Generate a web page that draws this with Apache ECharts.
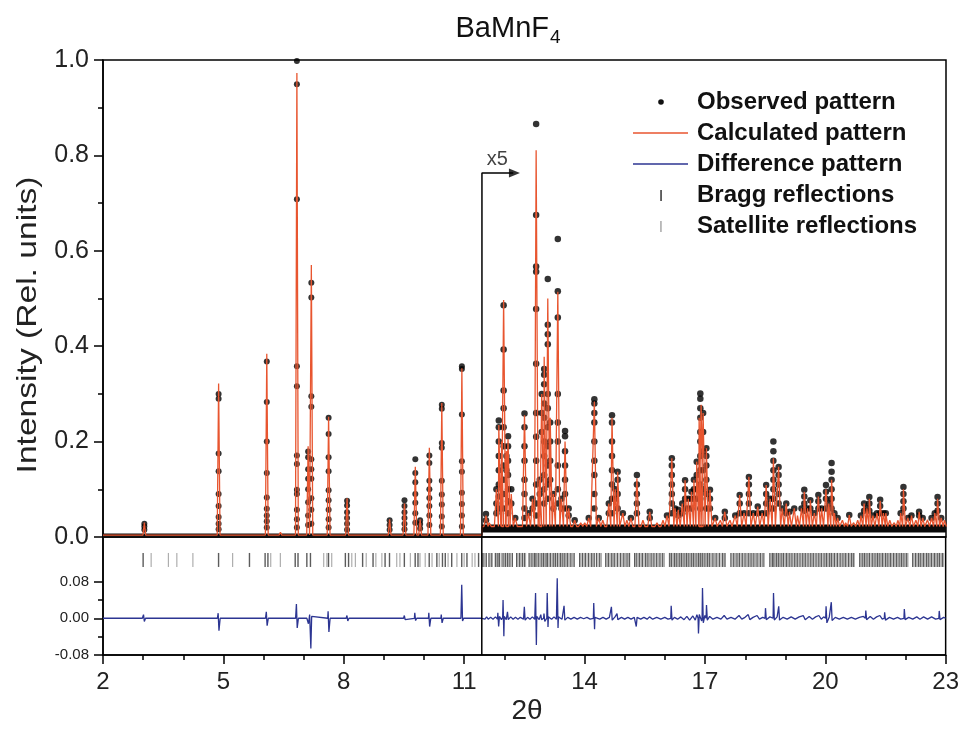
<!DOCTYPE html>
<html><head><meta charset="utf-8">
<script src="https://cdn.jsdelivr.net/npm/echarts@6/dist/echarts.min.js"></script>
<style>html,body{margin:0;padding:0;background:#fff}#c{width:962px;height:729px}</style>
</head><body><div id="c"></div>
<script>
// ---------- axis ticks ----------
const xMajorTicks = [2, 5, 8, 11, 14, 17, 20, 23];
const xMinorTicks = [3, 4, 6, 7, 9, 10, 12, 13, 15, 16, 18, 19, 21, 22];
const diffTicks = [-0.08, 0, 0.08];
const diffMinorTicks = [-0.04, 0.04];

// ---------- x5 break ----------
const x5Break = 11.44;
const x5Arrow = [[11.44, 0], [11.44, 0.763], [12.22, 0.763]];
const x5ArrowHead = [[12.25, 0.763]];
const x5LabelPos = [[11.82, 0.763]];

// ---------- baselines (display units) ----------
const calcBaseLeft = 0.004, calcBaseRight = 0.022;
const obsBandLeft = [[2, 0.003], [11.44, 0.003]];
const obsBandRight = [[11.44, 0.018], [23, 0.018]];

// ---------- calculated peaks [2θ, height] ----------
const calcPeaksLeft = [
  [3.03, 0.030], [3.86, 0.008], [4.24, 0.005], [4.88, 0.322], [5.23, 0.008],
  [6.08, 0.384], [6.42, 0.010], [6.83, 0.973], [7.11, 0.190], [7.19, 0.570],
  [7.62, 0.252], [8.08, 0.081], [8.62, 0.006], [8.74, 0.005], [8.87, 0.006],
  [8.99, 0.005], [9.14, 0.037], [9.51, 0.070], [9.78, 0.147], [9.90, 0.037],
  [10.13, 0.187], [10.44, 0.281], [10.94, 0.354], [11.27, 0.006]
];
const calcPeaksRight = [
  [11.54, 0.045], [11.62, 0.030], [11.80, 0.100], [11.86, 0.235], [11.93, 0.200],
  [11.98, 0.497], [12.05, 0.180], [12.09, 0.205], [12.17, 0.090], [12.27, 0.040],
  [12.50, 0.255], [12.60, 0.050], [12.70, 0.080], [12.79, 0.811], [12.88, 0.120],
  [12.93, 0.300], [12.99, 0.378], [13.08, 0.500], [13.14, 0.250], [13.22, 0.090],
  [13.33, 0.514], [13.42, 0.080], [13.51, 0.200], [13.60, 0.060], [13.75, 0.035],
  [13.90, 0.030], [14.00, 0.030], [14.10, 0.040], [14.24, 0.284], [14.35, 0.040],
  [14.45, 0.035], [14.60, 0.070], [14.68, 0.250], [14.76, 0.100], [14.82, 0.137],
  [14.95, 0.050], [15.05, 0.035], [15.15, 0.040], [15.30, 0.123], [15.45, 0.035],
  [15.62, 0.053], [15.80, 0.030], [15.95, 0.035], [16.05, 0.045], [16.17, 0.165],
  [16.25, 0.060], [16.33, 0.057], [16.43, 0.070], [16.50, 0.119], [16.58, 0.080],
  [16.66, 0.095], [16.72, 0.120], [16.79, 0.158], [16.85, 0.250], [16.90, 0.277],
  [16.95, 0.260], [17.03, 0.186], [17.12, 0.099], [17.25, 0.040], [17.38, 0.035],
  [17.49, 0.053], [17.62, 0.035], [17.75, 0.045], [17.86, 0.088], [17.97, 0.050],
  [18.09, 0.126], [18.20, 0.050], [18.31, 0.064], [18.42, 0.050], [18.52, 0.109],
  [18.62, 0.080], [18.70, 0.165], [18.83, 0.147], [18.92, 0.060], [19.02, 0.070],
  [19.10, 0.053], [19.22, 0.060], [19.30, 0.045], [19.40, 0.060], [19.47, 0.095],
  [19.55, 0.060], [19.62, 0.077], [19.72, 0.050], [19.82, 0.085], [19.90, 0.060],
  [20.01, 0.100], [20.08, 0.070], [20.15, 0.120], [20.22, 0.050], [20.30, 0.040],
  [20.42, 0.035], [20.50, 0.030], [20.59, 0.046], [20.70, 0.030], [20.80, 0.035],
  [20.88, 0.045], [20.96, 0.070], [21.03, 0.060], [21.09, 0.080], [21.18, 0.045],
  [21.28, 0.050], [21.36, 0.076], [21.44, 0.050], [21.50, 0.050], [21.60, 0.035],
  [21.71, 0.030], [21.80, 0.035], [21.87, 0.050], [21.94, 0.100], [22.05, 0.040],
  [22.14, 0.045], [22.25, 0.035], [22.33, 0.053], [22.42, 0.040], [22.54, 0.036],
  [22.64, 0.040], [22.72, 0.050], [22.79, 0.080], [22.88, 0.040], [22.96, 0.035]
];

// ---------- observed points [2θ, [intensities]] ----------
const obsDotsLeft = [
  [3.03, [0.028, 0.022, 0.015]],
  [4.88, [0.300, 0.290, 0.175, 0.138, 0.090, 0.065, 0.042, 0.028, 0.016]],
  [6.08, [0.368, 0.283, 0.200, 0.134, 0.083, 0.059, 0.045, 0.033, 0.020]],
  [6.83, [0.998, 0.949, 0.708, 0.358, 0.316, 0.171, 0.153, 0.099, 0.090, 0.057, 0.037, 0.020]],
  [7.11, [0.179, 0.167, 0.142, 0.122, 0.100, 0.073, 0.045, 0.025]],
  [7.19, [0.533, 0.502, 0.295, 0.273, 0.163, 0.142, 0.122, 0.081, 0.057, 0.028]],
  [7.62, [0.250, 0.216, 0.167, 0.138, 0.098, 0.077, 0.057, 0.037, 0.020]],
  [8.08, [0.076, 0.066, 0.052, 0.040, 0.028, 0.015]],
  [9.14, [0.035, 0.025, 0.015]],
  [9.51, [0.077, 0.065, 0.052, 0.040, 0.028, 0.016]],
  [9.78, [0.163, 0.134, 0.115, 0.090, 0.072, 0.050, 0.030]],
  [9.90, [0.035, 0.027, 0.018]],
  [10.13, [0.171, 0.155, 0.118, 0.100, 0.082, 0.065, 0.045, 0.025]],
  [10.44, [0.277, 0.269, 0.197, 0.187, 0.118, 0.089, 0.068, 0.043, 0.022]],
  [10.94, [0.358, 0.352, 0.257, 0.159, 0.137, 0.093, 0.069, 0.045, 0.022]]
];
const obsDotsRight = [
  [11.54, [0.048, 0.035]], [11.80, [0.100, 0.070, 0.050]],
  [11.86, [0.244, 0.230, 0.200, 0.170, 0.140, 0.110, 0.085, 0.060]],
  [11.98, [0.486, 0.393, 0.307, 0.270, 0.230, 0.190, 0.150, 0.120, 0.090, 0.060]],
  [12.05, [0.170, 0.140]], [12.09, [0.211, 0.190, 0.160, 0.130, 0.100, 0.075, 0.050]],
  [12.17, [0.100, 0.070]], [12.27, [0.040]],
  [12.50, [0.259, 0.230, 0.190, 0.160, 0.120, 0.090, 0.060, 0.040]],
  [12.60, [0.050]], [12.70, [0.080, 0.060]],
  [12.79, [0.866, 0.675, 0.567, 0.556, 0.478, 0.363, 0.260, 0.210, 0.160, 0.110, 0.070, 0.045]],
  [12.88, [0.120, 0.090]], [12.93, [0.300, 0.260, 0.220]],
  [12.99, [0.352, 0.340, 0.320, 0.280, 0.250, 0.200, 0.170, 0.130, 0.100, 0.070]],
  [13.08, [0.541, 0.445, 0.425, 0.404, 0.300, 0.270, 0.230, 0.190, 0.150, 0.110, 0.080]],
  [13.14, [0.240, 0.200, 0.160, 0.120]], [13.22, [0.090, 0.060]],
  [13.33, [0.625, 0.515, 0.460, 0.300, 0.240, 0.200, 0.150, 0.100, 0.070]],
  [13.42, [0.080, 0.060]], [13.51, [0.222, 0.211, 0.180, 0.150, 0.120, 0.090, 0.060]],
  [13.60, [0.060, 0.045]], [13.75, [0.035]], [14.10, [0.040]],
  [14.24, [0.289, 0.280, 0.260, 0.240, 0.200, 0.160, 0.130, 0.090, 0.060]],
  [14.35, [0.040]], [14.60, [0.070, 0.050]],
  [14.68, [0.255, 0.240, 0.200, 0.170, 0.140, 0.110, 0.080, 0.050]],
  [14.76, [0.100, 0.080]], [14.82, [0.137, 0.120, 0.090, 0.060]],
  [14.95, [0.050]], [15.15, [0.040]], [15.30, [0.130, 0.110, 0.090, 0.070, 0.050]],
  [15.62, [0.053, 0.040]], [16.05, [0.045]],
  [16.17, [0.165, 0.150, 0.130, 0.110, 0.090, 0.070, 0.050]],
  [16.25, [0.060]], [16.33, [0.057, 0.045]], [16.43, [0.070, 0.050]],
  [16.50, [0.119, 0.100, 0.080, 0.060]], [16.58, [0.080, 0.060]],
  [16.66, [0.095, 0.080, 0.060]], [16.72, [0.120, 0.100, 0.080]],
  [16.79, [0.158, 0.130, 0.100, 0.080]],
  [16.88, [0.301, 0.290, 0.270, 0.250, 0.220, 0.200, 0.170, 0.140, 0.110, 0.080, 0.060]],
  [16.95, [0.260, 0.220, 0.180, 0.140, 0.100]],
  [17.03, [0.186, 0.170, 0.150, 0.120, 0.090, 0.060]], [17.12, [0.099, 0.080, 0.060]],
  [17.25, [0.040]], [17.49, [0.053, 0.040]], [17.75, [0.045]],
  [17.86, [0.088, 0.070, 0.050]], [17.97, [0.050]],
  [18.09, [0.126, 0.110, 0.090, 0.070, 0.050]], [18.20, [0.050]],
  [18.31, [0.064, 0.050]], [18.42, [0.050]], [18.52, [0.109, 0.090, 0.070, 0.050]],
  [18.62, [0.080, 0.060]], [18.70, [0.200, 0.180, 0.160, 0.140, 0.120, 0.100, 0.080, 0.060]],
  [18.83, [0.147, 0.130, 0.110, 0.090, 0.070]], [18.92, [0.060]],
  [19.02, [0.070, 0.050]], [19.10, [0.053]], [19.22, [0.060]], [19.40, [0.060]],
  [19.47, [0.099, 0.085, 0.070, 0.055]], [19.55, [0.060]], [19.62, [0.077, 0.060]],
  [19.72, [0.050]], [19.82, [0.088, 0.075, 0.060]], [19.90, [0.060]],
  [20.01, [0.109, 0.095, 0.080, 0.060]], [20.08, [0.070]],
  [20.15, [0.155, 0.137, 0.120, 0.100, 0.080, 0.060]], [20.22, [0.050]],
  [20.30, [0.040]], [20.59, [0.046]], [20.88, [0.045]], [20.96, [0.070, 0.055]],
  [21.03, [0.060]], [21.09, [0.084, 0.070, 0.055]], [21.18, [0.045]], [21.28, [0.050]],
  [21.36, [0.078, 0.065, 0.050]], [21.44, [0.050]], [21.50, [0.050]], [21.87, [0.050]],
  [21.94, [0.105, 0.090, 0.075, 0.060]], [22.05, [0.040]], [22.14, [0.045]],
  [22.33, [0.053, 0.045]], [22.42, [0.040]], [22.64, [0.040]], [22.72, [0.050]],
  [22.79, [0.084, 0.070, 0.055]], [22.88, [0.040]]
];

// ---------- difference pattern [2θ, Δ] ----------
const diffPoints = [
  [2.00, 0], [2.98, 0], [3.01, 0.008], [3.03, -0.007], [3.06, 0],
  [3.85, 0], [3.86, 0.002], [3.88, 0],
  [4.85, 0], [4.87, 0.011], [4.89, -0.027], [4.92, 0],
  [6.05, 0], [6.07, 0.014], [6.09, -0.016], [6.12, 0],
  [6.80, 0], [6.82, 0.031], [6.84, -0.021], [6.87, 0],
  [7.08, 0], [7.10, 0.004], [7.12, -0.012], [7.15, 0.008], [7.18, -0.066], [7.20, 0.004], [7.23, 0],
  [7.60, 0], [7.61, 0.015], [7.63, -0.030], [7.66, 0],
  [8.06, 0], [8.08, 0.006], [8.10, -0.006], [8.13, 0],
  [9.13, 0], [9.14, 0.003], [9.16, 0],
  [9.49, 0], [9.51, 0.006], [9.53, -0.003], [9.55, 0],
  [9.76, 0], [9.77, 0.012], [9.79, -0.005], [9.82, 0],
  [9.89, 0], [9.90, 0.004], [9.92, -0.003], [9.94, 0],
  [10.11, 0], [10.12, 0.012], [10.14, -0.018], [10.17, 0],
  [10.42, 0], [10.43, 0.008], [10.45, -0.010], [10.48, 0],
  [10.92, 0], [10.94, 0.073], [10.96, -0.006], [10.99, 0],
  [11.44, 0],
  [11.48, 0.002], [11.52, -0.002], [11.56, 0.003], [11.60, -0.002], [11.66, 0.002], [11.72, -0.002],
  [11.78, 0.003], [11.83, -0.002], [11.84, 0.012], [11.86, -0.018], [11.88, 0.004], [11.93, -0.003],
  [11.96, 0.002], [11.97, 0.040], [11.99, -0.039], [12.00, 0.004], [12.05, -0.003], [12.07, 0],
  [12.08, 0.014], [12.10, -0.003], [12.16, 0.003], [12.22, -0.002], [12.28, 0.002], [12.34, -0.002],
  [12.40, 0.002], [12.48, -0.002], [12.49, 0], [12.50, 0.025], [12.52, -0.004], [12.58, 0.002],
  [12.64, -0.002], [12.70, 0.003], [12.76, -0.002], [12.77, 0], [12.78, 0.055], [12.80, -0.058],
  [12.81, 0.004], [12.87, -0.003], [12.90, 0], [12.91, 0.008], [12.93, -0.003], [12.98, 0],
  [12.99, 0.010], [13.01, -0.007], [13.06, 0], [13.07, 0.055], [13.09, -0.019], [13.10, 0.003],
  [13.18, -0.002], [13.24, 0.003], [13.30, -0.002], [13.31, 0], [13.32, 0.087], [13.34, -0.021],
  [13.35, 0.003], [13.44, -0.002], [13.48, 0], [13.49, 0.027], [13.51, -0.004], [13.58, 0.002],
  [13.66, -0.002], [13.74, 0.002], [13.82, -0.002], [13.90, 0.002], [13.98, -0.001], [14.06, 0.002],
  [14.14, -0.002], [14.22, 0], [14.23, 0.033], [14.25, -0.024], [14.26, 0.002], [14.38, -0.002],
  [14.46, 0.002], [14.54, -0.002], [14.62, 0.002], [14.66, 0], [14.67, 0.025], [14.69, -0.004],
  [14.76, 0.003], [14.80, 0], [14.81, 0.010], [14.83, -0.003], [14.92, 0.002], [15.00, -0.002],
  [15.08, 0.002], [15.16, -0.002], [15.24, 0.002], [15.28, 0], [15.29, -0.018], [15.31, 0.002],
  [15.40, -0.002], [15.48, 0.002], [15.56, -0.002], [15.62, 0.003], [15.70, -0.002], [15.80, 0.002],
  [15.90, -0.002], [16.00, 0.002], [16.08, -0.002], [16.15, 0], [16.16, 0.027], [16.18, -0.004],
  [16.24, 0.002], [16.32, -0.002], [16.40, 0.003], [16.48, -0.003], [16.55, 0.004], [16.62, -0.004],
  [16.70, 0.005], [16.76, -0.004], [16.80, 0.008], [16.83, 0], [16.84, -0.033], [16.86, 0.008],
  [16.92, -0.006], [16.93, 0], [16.94, 0.066], [16.96, -0.010], [17.00, 0.006], [17.03, 0],
  [17.04, 0.029], [17.06, -0.004], [17.12, 0.004], [17.20, -0.002], [17.30, 0.002], [17.40, -0.002],
  [17.48, 0.006], [17.55, -0.002], [17.65, 0.002], [17.75, -0.002], [17.85, 0.006], [17.92, -0.002],
  [18.00, 0.002], [18.08, 0.008], [18.12, -0.003], [18.20, 0.002], [18.30, 0.006], [18.36, -0.002],
  [18.44, 0.002], [18.50, 0], [18.51, 0.022], [18.53, -0.003], [18.62, 0.003], [18.70, 0],
  [18.71, 0.055], [18.73, -0.004], [18.80, 0.003], [18.83, 0], [18.84, 0.026], [18.86, -0.004],
  [18.95, 0.002], [19.05, -0.002], [19.15, 0.003], [19.25, -0.002], [19.35, 0.003], [19.45, 0.006],
  [19.50, -0.003], [19.60, 0.004], [19.68, -0.002], [19.76, 0.003], [19.84, 0.006], [19.90, -0.002],
  [19.96, 0.003], [20.01, 0], [20.02, 0.026], [20.04, -0.010], [20.10, 0.003], [20.14, 0],
  [20.15, 0.035], [20.17, -0.005], [20.25, 0.002], [20.35, -0.002], [20.45, 0.002], [20.55, -0.002],
  [20.65, 0.002], [20.75, -0.002], [20.85, 0.002], [20.95, 0.004], [21.00, 0], [21.01, 0.017],
  [21.03, -0.003], [21.12, 0.004], [21.20, -0.002], [21.28, 0.003], [21.36, 0.006], [21.42, -0.002],
  [21.47, 0], [21.48, 0.013], [21.50, -0.004], [21.60, 0.002], [21.70, -0.002], [21.80, 0.002],
  [21.88, -0.002], [21.96, 0], [21.97, 0.020], [21.99, -0.003], [22.08, 0.002], [22.18, -0.002],
  [22.28, 0.003], [22.36, -0.002], [22.45, 0.003], [22.55, -0.002], [22.65, 0.003], [22.75, -0.002],
  [22.83, 0], [22.84, 0.016], [22.86, -0.003], [22.95, 0.002], [23.00, 0]
];

// ---------- reflection positions (2θ) ----------
const braggPos = [
  3.00, 4.88, 5.65, 6.04, 6.11, 6.79, 6.86, 7.08, 7.17, 7.62, 8.04, 8.12, 8.47, 8.73, 9.03, 9.14,
  9.51, 9.78, 9.85, 10.13, 10.32, 10.46, 10.53, 10.69, 10.94, 11.07, 11.36,
  11.47, 11.55, 11.62, 11.69, 11.78, 11.84, 11.88, 11.97, 12.03, 12.08, 12.14, 12.20, 12.31, 12.38,
  12.45, 12.50, 12.62, 12.69, 12.75, 12.79, 12.86, 12.92, 12.98, 13.04, 13.08, 13.15, 13.22, 13.28,
  13.33, 13.40, 13.46, 13.51, 13.58, 13.66, 13.74, 13.88, 13.95, 14.02, 14.10, 14.18, 14.24, 14.30,
  14.38, 14.53, 14.60, 14.68, 14.74, 14.82, 14.90, 14.98, 15.06, 15.12, 15.25, 15.30, 15.37, 15.44,
  15.52, 15.58, 15.66, 15.73, 15.80, 15.88, 15.95, 16.12, 16.17, 16.24, 16.30, 16.36, 16.42, 16.48,
  16.54, 16.60, 16.66, 16.72, 16.78, 16.84, 16.89, 16.94, 17.00, 17.06, 17.12, 17.20, 17.28, 17.36,
  17.44, 17.50, 17.65, 17.72, 17.80, 17.86, 17.93, 18.00, 18.08, 18.15, 18.22, 18.30, 18.38, 18.45,
  18.62, 18.68, 18.72, 18.78, 18.84, 18.90, 18.96, 19.03, 19.10, 19.17, 19.24, 19.30, 19.37, 19.44,
  19.50, 19.57, 19.64, 19.70, 19.77, 19.84, 19.90, 19.97, 20.03, 20.10, 20.16, 20.23, 20.30, 20.37,
  20.44, 20.51, 20.58, 20.65, 20.71, 20.86, 20.92, 20.98, 21.04, 21.10, 21.17, 21.24, 21.30, 21.36,
  21.43, 21.50, 21.56, 21.63, 21.70, 21.77, 21.84, 21.90, 21.96, 22.03, 22.18, 22.25, 22.32, 22.38,
  22.45, 22.52, 22.58, 22.65, 22.72, 22.79, 22.85, 22.92
];
const satellitePos = [
  3.20, 3.63, 3.84, 4.24, 5.23, 6.18, 6.42, 7.50, 7.58, 7.70, 8.20, 8.29, 8.56, 8.80, 8.95, 9.32,
  9.40, 9.66, 9.90, 10.03, 10.20, 10.38, 10.60, 10.82, 11.00, 11.20, 11.27,
  11.51, 11.65, 11.81, 11.93, 12.00, 12.11, 12.34, 12.41, 12.53, 12.65, 12.72, 12.83, 12.95, 13.01,
  13.12, 13.19, 13.25, 13.37, 13.43, 13.55, 13.62, 13.70, 13.91, 13.99, 14.06, 14.14, 14.21, 14.34,
  14.42, 14.57, 14.64, 14.71, 14.78, 14.86, 14.94, 15.02, 15.09, 15.28, 15.34, 15.41, 15.48, 15.55,
  15.62, 15.69, 15.76, 15.84, 15.91, 15.99, 16.14, 16.21, 16.27, 16.33, 16.39, 16.45, 16.51, 16.57,
  16.63, 16.69, 16.75, 16.81, 16.87, 16.92, 16.97, 17.03, 17.09, 17.16, 17.24, 17.32, 17.40, 17.47,
  17.68, 17.76, 17.83, 17.90, 17.97, 18.04, 18.11, 18.19, 18.26, 18.34, 18.42, 18.48, 18.65, 18.75,
  18.81, 18.87, 18.93, 19.00, 19.06, 19.13, 19.20, 19.27, 19.34, 19.40, 19.47, 19.54, 19.60, 19.67,
  19.74, 19.80, 19.87, 19.94, 20.00, 20.06, 20.13, 20.20, 20.27, 20.34, 20.41, 20.48, 20.54, 20.61,
  20.68, 20.89, 20.95, 21.01, 21.07, 21.14, 21.20, 21.27, 21.33, 21.40, 21.46, 21.53, 21.60, 21.66,
  21.73, 21.80, 21.87, 21.93, 22.00, 22.06, 22.21, 22.28, 22.35, 22.42, 22.48, 22.55, 22.62, 22.69,
  22.75, 22.82, 22.89, 22.95
];
const reflectionRowLevel = 0.127;

// ---------- build series data ----------
const peakFootLeft = 0.035, peakFootRight = 0.05;
function profile(peaks, base, from, to, foot) {
  const pts = [[from, base]];
  peaks.forEach(([p, h]) => { pts.push([p - foot, base], [p, h], [p + foot, base]); });
  pts.push([to, base]);
  return pts;
}
const calcData = profile(calcPeaksLeft, calcBaseLeft, 2, x5Break, peakFootLeft)
  .concat(profile(calcPeaksRight, calcBaseRight, x5Break, 23, peakFootRight));
function dots(list) {
  const out = [];
  list.forEach(([p, hs]) => hs.forEach(h => out.push([p, h])));
  return out;
}
const obsLeft = dots(obsDotsLeft);
const obsRight = dots(obsDotsRight);

const FONT = 'Liberation Sans, Arial, Helvetica, sans-serif';
const RED = '#e8552f', BLUE = '#2c3592';
const AX = {color: '#000', width: 1.5};

const chart = echarts.init(document.getElementById('c'), null, {renderer: 'canvas'});
chart.setOption({
  animation: false,
  backgroundColor: '#fff',
  grid: [
    {left: 103, right: 16, top: 60, height: 477, show: true, borderColor: '#000', borderWidth: 1.5, backgroundColor: 'transparent'},
    {left: 103, right: 16, top: 537, height: 118, show: true, borderColor: '#000', borderWidth: 1.5, backgroundColor: 'transparent'},
    {left: 103, right: 16, top: 537, height: 118, show: false}
  ],
  xAxis: [
    {type: 'value', gridIndex: 0, min: 2, max: 23, show: false},
    {type: 'value', gridIndex: 1, min: 2, max: 23, position: 'bottom',
     axisLine: {show: true, onZero: false, lineStyle: AX},
     axisTick: {show: true, customValues: xMajorTicks, length: 9, inside: false, lineStyle: AX},
     axisLabel: {show: true, customValues: xMajorTicks, margin: 15, fontSize: 24, color: '#222', fontFamily: FONT},
     splitLine: {show: false}},
    {type: 'value', gridIndex: 2, min: 2, max: 23, position: 'bottom',
     axisLine: {show: false, onZero: false},
     axisTick: {show: true, customValues: xMinorTicks, length: 5, lineStyle: AX},
     axisLabel: {show: false}, splitLine: {show: false}}
  ],
  yAxis: [
    {type: 'value', gridIndex: 0, min: 0, max: 1, interval: 0.2, position: 'left',
     axisLine: {show: true, onZero: false, lineStyle: AX},
     axisTick: {show: true, length: 9, lineStyle: AX},
     minorTick: {show: true, splitNumber: 2, length: 5, lineStyle: AX},
     axisLabel: {margin: 14, fontSize: 25, color: '#222', fontFamily: FONT, formatter: v => v.toFixed(1)},
     splitLine: {show: false}, minorSplitLine: {show: false}},
    {type: 'value', gridIndex: 1, min: -0.08, max: 0.177, position: 'left',
     axisLine: {show: true, onZero: false, lineStyle: AX},
     axisTick: {show: true, customValues: diffTicks, length: 9, lineStyle: AX},
     axisLabel: {customValues: diffTicks, margin: 14, fontSize: 15, color: '#222', fontFamily: FONT, formatter: v => v.toFixed(2)},
     splitLine: {show: false}},
    {type: 'value', gridIndex: 2, min: -0.08, max: 0.177, position: 'left',
     axisLine: {show: false, onZero: false},
     axisTick: {show: true, customValues: diffMinorTicks, length: 5, lineStyle: AX},
     axisLabel: {show: false}, splitLine: {show: false}}
  ],
  series: [
    {name: 'Observed pattern', type: 'line', xAxisIndex: 0, yAxisIndex: 0, data: obsBandLeft,
     showSymbol: false, lineStyle: {color: '#111', width: 4}, silent: true},
    {name: 'Observed pattern', type: 'line', xAxisIndex: 0, yAxisIndex: 0, data: obsBandRight,
     showSymbol: false, lineStyle: {color: '#0a0a0a', width: 8}, silent: true},
    {name: 'Observed pattern', type: 'scatter', xAxisIndex: 0, yAxisIndex: 0, data: obsLeft,
     symbol: 'circle', symbolSize: 6, itemStyle: {color: '#000'}, silent: true},
    {name: 'Observed pattern', type: 'scatter', xAxisIndex: 0, yAxisIndex: 0, data: obsRight,
     symbol: 'circle', symbolSize: 6.5, itemStyle: {color: '#000'}, silent: true},
    {name: 'Calculated pattern', type: 'line', xAxisIndex: 0, yAxisIndex: 0, data: calcData,
     showSymbol: false, lineStyle: {color: RED, width: 1.3}, silent: true, z: 3},
    {name: 'Bragg reflections', type: 'scatter', xAxisIndex: 1, yAxisIndex: 1,
     data: braggPos.map(p => [p, reflectionRowLevel]), symbol: 'rect', symbolSize: [1.4, 14],
     itemStyle: {color: '#333'}, silent: true},
    {name: 'Satellite reflections', type: 'scatter', xAxisIndex: 1, yAxisIndex: 1,
     data: satellitePos.map(p => [p, reflectionRowLevel]), symbol: 'rect', symbolSize: [1.2, 14],
     itemStyle: {color: '#9a9a9a'}, silent: true},
    {name: 'Difference pattern', type: 'line', xAxisIndex: 1, yAxisIndex: 1, data: diffPoints,
     showSymbol: false, lineStyle: {color: BLUE, width: 1.3}, silent: true},
    {name: 'x5 line', type: 'line', xAxisIndex: 0, yAxisIndex: 0, data: x5Arrow,
     showSymbol: false, lineStyle: {color: '#000', width: 1.5}, silent: true, z: 5},
    {name: 'x5 line lower', type: 'line', xAxisIndex: 1, yAxisIndex: 1,
     data: [[x5Break, -0.08], [x5Break, 0.177]],
     showSymbol: false, lineStyle: {color: '#000', width: 1.5}, silent: true, z: 5},
    {name: 'x5 arrow', type: 'scatter', xAxisIndex: 0, yAxisIndex: 0, data: x5ArrowHead,
     symbol: 'path://M0,0 L10,5 L0,10 Z', symbolSize: [11, 9], itemStyle: {color: '#000'}, silent: true, z: 5},
    {name: 'x5 label', type: 'scatter', xAxisIndex: 0, yAxisIndex: 0, data: x5LabelPos,
     symbolSize: 0, silent: true, z: 5,
     label: {show: true, position: 'top', distance: 4, formatter: 'x5', fontSize: 20, color: '#111', fontFamily: FONT}}
  ],
  graphic: [
    {type: 'text', x: 549, y: 29, style: {text: 'BaMnF', fontSize: 29, fontFamily: FONT, fill: '#111', textAlign: 'right', align: 'right', textVerticalAlign: 'middle', verticalAlign: 'middle'}},
    {type: 'text', x: 550, y: 38, style: {text: '4', fontSize: 19, fontFamily: FONT, fill: '#111', textAlign: 'left', align: 'left', textVerticalAlign: 'middle', verticalAlign: 'middle'}},
    {type: 'text', x: 28, y: 325, rotation: Math.PI / 2, scaleX: 1.2, style: {text: 'Intensity (Rel. units)', fontSize: 28, fontFamily: FONT, fill: '#222', textAlign: 'center', align: 'center', textVerticalAlign: 'middle', verticalAlign: 'middle'}},
    {type: 'text', x: 527, y: 711, style: {text: '2θ', fontSize: 28, fontFamily: FONT, fill: '#222', textAlign: 'center', align: 'center', textVerticalAlign: 'middle', verticalAlign: 'middle'}},
    // legend
    {type: 'circle', shape: {cx: 661, cy: 102, r: 2.8}, style: {fill: '#111'}},
    {type: 'line', shape: {x1: 633, y1: 133, x2: 688, y2: 133}, style: {stroke: RED, lineWidth: 1.3}},
    {type: 'line', shape: {x1: 633, y1: 164, x2: 688, y2: 164}, style: {stroke: BLUE, lineWidth: 1.3}},
    {type: 'rect', shape: {x: 660.3, y: 190, width: 1.5, height: 11}, style: {fill: '#333'}},
    {type: 'rect', shape: {x: 660.3, y: 221, width: 1.3, height: 11}, style: {fill: '#9a9a9a'}},
    {type: 'text', x: 697, y: 102, style: {text: 'Observed pattern', fontSize: 24, fontWeight: 'bold', fontFamily: FONT, fill: '#111', textVerticalAlign: 'middle', verticalAlign: 'middle'}},
    {type: 'text', x: 697, y: 133, style: {text: 'Calculated pattern', fontSize: 24, fontWeight: 'bold', fontFamily: FONT, fill: '#111', textVerticalAlign: 'middle', verticalAlign: 'middle'}},
    {type: 'text', x: 697, y: 164, style: {text: 'Difference pattern', fontSize: 24, fontWeight: 'bold', fontFamily: FONT, fill: '#111', textVerticalAlign: 'middle', verticalAlign: 'middle'}},
    {type: 'text', x: 697, y: 195, style: {text: 'Bragg reflections', fontSize: 24, fontWeight: 'bold', fontFamily: FONT, fill: '#111', textVerticalAlign: 'middle', verticalAlign: 'middle'}},
    {type: 'text', x: 697, y: 226, style: {text: 'Satellite reflections', fontSize: 24, fontWeight: 'bold', fontFamily: FONT, fill: '#111', textVerticalAlign: 'middle', verticalAlign: 'middle'}}
  ]
});
</script></body></html>
